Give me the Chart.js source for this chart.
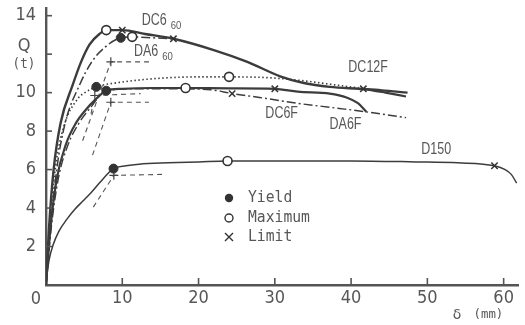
<!DOCTYPE html>
<html>
<head>
<meta charset="utf-8">
<script src="https://cdn.jsdelivr.net/npm/chart.js@4.4.1/dist/chart.umd.min.js"></script>
<style>
  html, body { margin: 0; padding: 0; background: #ffffff; }
  #wrap { width: 525px; height: 325px; }
</style>
</head>
<body>
<div id="wrap"><canvas id="c" width="525" height="325"></canvas></div>
<script>
// Axis ticks
const deltaTicks = [0, 10, 20, 30, 40, 50, 60];
const loadTicks = [2, 4, 6, 8, 10, 12, 14];

// Load–displacement curves: δ (mm) and Q (t)
const dc660Delta = [0, 0.4, 1.0, 1.9, 3.5, 4.6, 5.7, 7.0, 7.9, 10.0, 13.0, 16.7, 22.1, 26.4, 30.7, 33.8, 37.2, 41.0, 44.0, 47.4];
const dc660Q     = [0, 3.0, 6.0, 8.4, 10.4, 11.6, 12.5, 13.05, 13.25, 13.25, 13.05, 12.8, 12.2, 11.6, 10.85, 10.5, 10.3, 10.2, 10.12, 10.0];

const da660Delta = [0, 0.6, 1.4, 2.5, 4.4, 6.0, 8.0, 9.8, 11.3, 14.0, 16.7];
const da660Q     = [0, 3.0, 6.0, 8.4, 10.4, 11.6, 12.45, 12.85, 12.9, 12.85, 12.8];

const dc12fDelta = [0, 0.5, 1.2, 2.3, 4.2, 5.3, 6.6, 10.0, 15.0, 20.0, 24.0, 29.0, 33.0, 37.0, 41.6, 44.5, 47.2];
const dc12fQ     = [0, 3.0, 6.0, 8.2, 9.7, 10.05, 10.3, 10.55, 10.75, 10.82, 10.82, 10.78, 10.65, 10.45, 10.2, 10.0, 9.8];

const dc6fDelta = [0, 0.6, 1.4, 2.6, 3.9, 5.2, 6.5, 7.9, 10.0, 14.0, 18.3, 24.0, 30.0, 33.0, 37.2, 39.4, 40.9, 42.0];
const dc6fQ     = [0, 3.0, 5.5, 7.3, 8.4, 9.1, 9.65, 10.1, 10.2, 10.24, 10.24, 10.22, 10.2, 10.05, 9.95, 9.75, 9.45, 9.0];

const da6fDelta = [0, 0.7, 1.6, 2.9, 4.3, 5.8, 7.9, 12.0, 17.0, 21.6, 24.4, 28.0, 32.9, 38.0, 42.0, 47.2];
const da6fQ     = [0, 3.0, 5.5, 7.3, 8.4, 9.2, 10.1, 10.2, 10.2, 10.15, 9.95, 9.75, 9.45, 9.2, 9.0, 8.7];

const d150Delta = [0, 0.1, 0.4, 0.95, 1.7, 2.7, 3.7, 4.8, 5.9, 7.0, 8.85, 10.5, 12.2, 16.0, 20.0, 23.8, 30.0, 40.0, 48.4, 54.0, 58.8, 60.2, 61.0, 61.7];
const d150Q     = [0, 0.45, 1.3, 2.1, 2.8, 3.4, 3.9, 4.35, 4.8, 5.3, 6.05, 6.2, 6.28, 6.35, 6.4, 6.45, 6.45, 6.45, 6.4, 6.35, 6.2, 6.0, 5.75, 5.3];

// Yield-point construction lines
const guideADelta = [4.8, 8.5, 13.5];
const guideAQ     = [7.5, 11.6, 11.6];
const guideBDelta = [6.1, 8.5, 13.5];
const guideBQ     = [6.75, 9.5, 9.5];
const guideCDelta = [5.9, 6.4, 12.4];
const guideCQ     = [8.9, 9.85, 9.95];
const guideDDelta = [6.2, 8.9, 15.4];
const guideDQ     = [4.05, 5.7, 5.75];

// Characteristic points
const yieldDelta = [6.6, 7.9, 9.8, 8.85];
const yieldQ     = [10.3, 10.1, 12.85, 6.05];
const maxDelta   = [7.9, 11.3, 24.0, 18.3, 23.8];
const maxQ       = [13.25, 12.9, 10.82, 10.24, 6.45];
const limitDelta = [10.0, 16.7, 41.6, 30.0, 24.4, 58.8];
const limitQ     = [13.25, 12.8, 10.2, 10.2, 9.95, 6.2];
const crossDelta = [8.5, 8.5, 6.4, 8.9];
const crossQ     = [11.6, 9.5, 9.85, 5.7];

// Specimen names
const specimenNames = ['DC6', 'DA6', 'DC12F', 'DC6F', 'DA6F', 'D150'];
const specimenSubs  = ['60', '60', '', '', '', ''];
const nameDelta     = [12.56, 11.53, 39.64, 28.76, 37.18, 49.2];
const nameQ         = [13.72, 12.11, 11.28, 8.89, 8.32, 7.02];

const legendNames = ['Yield', 'Maximum', 'Limit'];

const INK = '#3c3c3c';
const TEXT = '#575757';
const NARROW = "'Liberation Sans Narrow', 'DejaVu Sans Condensed', 'Liberation Sans', sans-serif";

const pts = (xs, ys) => xs.map((v, i) => ({ x: v, y: ys[i] }));

function curve(xs, ys, width, dash, extra) {
  return Object.assign({
    type: 'line',
    data: pts(xs, ys),
    borderColor: INK,
    borderWidth: width,
    borderDash: dash,
    pointRadius: 0,
    fill: false,
    tension: 0.4,
    cubicInterpolationMode: 'monotone',
    order: 2
  }, extra || {});
}

function guide(xs, ys) {
  return {
    type: 'line',
    data: pts(xs, ys),
    borderColor: '#555',
    borderWidth: 1.1,
    borderDash: [5, 4],
    pointRadius: 0,
    tension: 0,
    order: 3
  };
}

const datasets = [
  curve(dc660Delta, dc660Q, 2.4, []),
  curve(da660Delta, da660Q, 1.5, [9, 3, 2, 3]),
  curve(dc12fDelta, dc12fQ, 1.6, [1.5, 2.5], {
    segment: {
      borderDash: c => (c.p0.parsed.x >= 41.5 ? [] : undefined),
      borderWidth: c => (c.p0.parsed.x >= 41.5 ? 2.2 : undefined)
    }
  }),
  curve(dc6fDelta, dc6fQ, 2.2, []),
  curve(da6fDelta, da6fQ, 1.4, [9, 3, 2, 3]),
  curve(d150Delta, d150Q, 1.5, []),
  guide(guideADelta, guideAQ),
  guide(guideBDelta, guideBQ),
  guide(guideCDelta, guideCQ),
  guide(guideDDelta, guideDQ),
  {
    type: 'scatter', data: pts(crossDelta, crossQ), pointStyle: 'cross',
    pointRadius: 4.5, borderColor: '#444', borderWidth: 1.2, order: 1
  },
  {
    type: 'scatter', data: pts(limitDelta, limitQ), pointStyle: 'crossRot',
    pointRadius: 4.5, borderColor: '#333', borderWidth: 1.5, order: 1
  },
  {
    type: 'scatter', data: pts(maxDelta, maxQ), pointStyle: 'circle',
    pointRadius: 4.5, backgroundColor: '#ffffff', borderColor: '#333', borderWidth: 1.6, order: 0
  },
  {
    type: 'scatter', data: pts(yieldDelta, yieldQ), pointStyle: 'circle',
    pointRadius: 4.5, backgroundColor: '#333', borderColor: '#333', borderWidth: 1, order: 0
  }
];

// Condensed text helper
function text(ctx, s, x, y, font, align, sx) {
  ctx.save();
  ctx.translate(x, y);
  ctx.scale(sx, 1);
  ctx.font = font;
  ctx.textAlign = align;
  ctx.textBaseline = 'middle';
  ctx.fillStyle = TEXT;
  ctx.fillText(s, 0, 0);
  ctx.restore();
}

const decorations = {
  id: 'decorations',
  afterDraw(chart) {
    const ctx = chart.ctx;
    const xs = chart.scales.x, ys = chart.scales.y;
    const area = chart.chartArea;

    // inward tick marks
    ctx.save();
    ctx.strokeStyle = '#555';
    ctx.lineWidth = 1.6;
    loadTicks.forEach(v => {
      const py = ys.getPixelForValue(v);
      ctx.beginPath(); ctx.moveTo(area.left, py); ctx.lineTo(area.left + 6, py); ctx.stroke();
    });
    deltaTicks.slice(1).forEach(v => {
      const px = xs.getPixelForValue(v);
      ctx.beginPath(); ctx.moveTo(px, area.bottom); ctx.lineTo(px, area.bottom - 7); ctx.stroke();
    });
    ctx.restore();

    // origin label and axis titles
    text(ctx, '0', xs.getPixelForValue(0) - 10, area.bottom + 14, '18px ' + NARROW, 'center', 1);
    text(ctx, 'Q', area.left - 22, ys.getPixelForValue(12.4), '18px ' + NARROW, 'center', 1);
    text(ctx, '(t)', area.left - 22, ys.getPixelForValue(11.45), "14px 'DejaVu Sans Mono', monospace", 'center', 0.9);
    text(ctx, 'δ', xs.getPixelForValue(53.9), area.bottom + 30, "14px 'DejaVu Sans', sans-serif", 'center', 1);
    text(ctx, '(mm)', xs.getPixelForValue(58.0), area.bottom + 30, "13px 'DejaVu Sans Mono', monospace", 'center', 0.95);

    // specimen names with subscripts
    specimenNames.forEach((name, i) => {
      const px = xs.getPixelForValue(nameDelta[i]);
      const py = ys.getPixelForValue(nameQ[i]);
      const font = "16px 'Liberation Sans', sans-serif";
      text(ctx, name, px, py, font, 'left', 0.78);
      if (specimenSubs[i]) {
        ctx.save();
        ctx.font = font;
        const w = ctx.measureText(name).width * 0.78;
        ctx.restore();
        text(ctx, specimenSubs[i], px + w + 4, py + 5, "10px 'Liberation Sans', sans-serif", 'left', 0.95);
      }
    });

    // symbol key
    const kx = 229, ky = [198, 218, 237];
    ctx.save();
    ctx.strokeStyle = '#333';
    ctx.fillStyle = '#333';
    ctx.lineWidth = 1.4;
    ctx.beginPath(); ctx.arc(kx, ky[0], 4.2, 0, Math.PI * 2); ctx.fill();
    ctx.beginPath(); ctx.arc(kx, ky[1], 4.0, 0, Math.PI * 2); ctx.stroke();
    ctx.beginPath();
    ctx.moveTo(kx - 4, ky[2] - 4); ctx.lineTo(kx + 4, ky[2] + 4);
    ctx.moveTo(kx + 4, ky[2] - 4); ctx.lineTo(kx - 4, ky[2] + 4);
    ctx.stroke();
    ctx.restore();
    legendNames.forEach((n, i) => {
      text(ctx, n, kx + 19, ky[i], "15px 'DejaVu Sans Mono', monospace", 'left', 0.98);
    });
  }
};

// keep the plot box fixed: no automatic label padding
function fixPadding(s) {
  s.paddingTop = 0; s.paddingBottom = 0; s.paddingLeft = 0; s.paddingRight = 0;
}

new Chart(document.getElementById('c'), {
  type: 'scatter',
  data: { datasets },
  options: {
    responsive: false,
    animation: false,
    events: [],
    layout: { padding: { top: 8, right: 0, left: 0, bottom: 0 } },
    plugins: { legend: { display: false }, tooltip: { enabled: false } },
    scales: {
      x: {
        type: 'linear', min: 0, max: 62,
        afterBuildTicks: s => { s.ticks = deltaTicks.map(v => ({ value: v })); },
        afterFit: s => { s.height = 40; fixPadding(s); },
        grid: { display: false, drawTicks: false },
        border: { display: true, color: '#555', width: 2.4 },
        ticks: {
          padding: 3, color: TEXT, maxRotation: 0, autoSkip: false,
          font: { family: NARROW, size: 18 },
          callback: v => (v === 0 ? '' : String(v))
        }
      },
      y: {
        type: 'linear', min: 0, max: 14.4,
        afterBuildTicks: s => { s.ticks = loadTicks.map(v => ({ value: v })); },
        afterFit: s => { s.width = 46; fixPadding(s); },
        grid: { display: false, drawTicks: false },
        border: { display: true, color: '#555', width: 2.4 },
        ticks: {
          padding: 10, color: TEXT, autoSkip: false,
          font: { family: NARROW, size: 18 },
          callback: v => (v === 12 ? '' : String(v))
        }
      }
    }
  },
  plugins: [decorations]
});
</script>
</body>
</html>
